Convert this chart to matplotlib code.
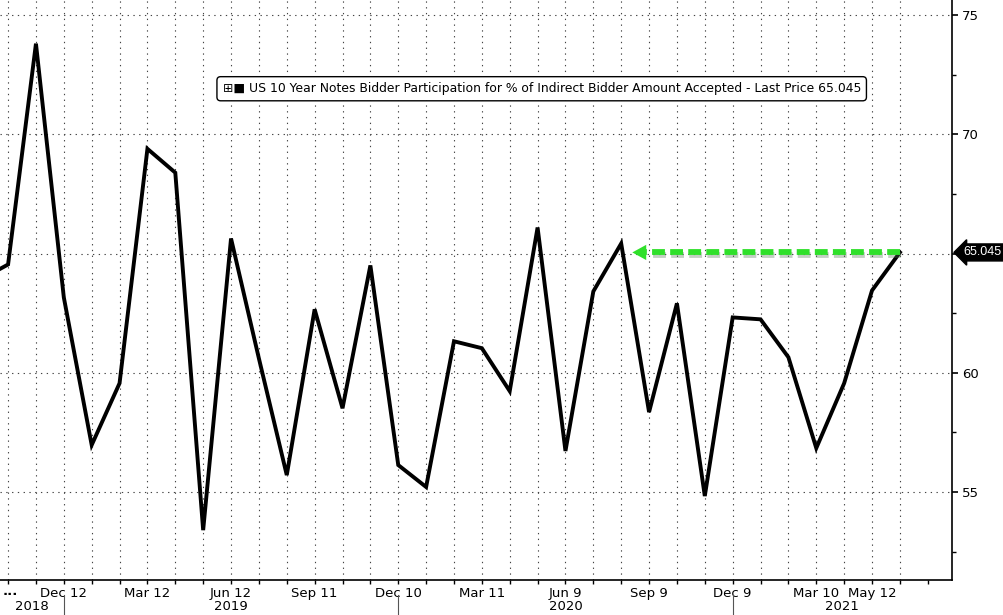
import matplotlib.pyplot as plt
import matplotlib.transforms as mtransforms
import matplotlib.patheffects as pe

# monthly auction results, Sep 2018 .. Jun 2021 (month index -1 .. 32)
months = list(range(-1, 33))
values = [63.9, 64.54, 73.8, 63.16, 56.97, 59.56, 69.39, 68.39, 53.4, 65.63,
          60.6, 55.71, 62.66, 58.51, 64.50, 56.13, 55.21, 61.32, 61.03, 59.23,
          66.09, 56.72, 63.41, 65.42, 58.35, 62.91, 54.83, 62.32, 62.24, 60.65,
          56.84, 59.56, 63.45, 65.045]

tick_pos = [2, 5, 8, 11, 14, 17, 20, 23, 26, 29, 31]
tick_labels = ["Dec 12", "Mar 12", "Jun 12", "Sep 11", "Dec 10", "Mar 11",
               "Jun 9", "Sep 9", "Dec 9", "Mar 10", "May 12"]
year_ends = [2, 14, 26]           # last auction of each year
years = ["2018", "2019", "2020", "2021"]
yticks = [55, 60, 65, 70, 75]
ytick_labels = ["55", "60", "", "70", "75"]   # 65 sits under the last-price tag

title = ("\u229e\u25a0 US 10 Year Notes Bidder Participation for % of Indirect "
         "Bidder Amount Accepted - Last Price 65.045")
green = "#2fe02a"
last = values[-1]

plt.rcParams['font.family'] = ['DejaVu Sans']
fig = plt.figure(figsize=(10.04, 6.15), dpi=100)
ax = fig.add_axes([0, 35 / 615, 952 / 1004, 580 / 615])

xmin, xmax = -0.29, 33.87
ax.set_xlim(xmin, xmax)
ax.set_ylim(51.31, 75.63)

# grid
for m in range(0, 33):
    ax.axvline(m, color="#444444", lw=0.8, ls=(0, (1.2, 4)), zorder=1)
for y in yticks:
    ax.axhline(y, color="#444444", lw=0.8, ls=(0, (1.2, 4)), zorder=1)

ax.plot(months, values, color="black", lw=2.8, solid_joinstyle="miter", zorder=3)

# green arrow back to the previous similar level
shadow = [pe.SimpleLineShadow(offset=(1, -2), alpha=0.35, shadow_color="#557755"), pe.Normal()]
ax.plot([32, 22.9], [last, last], color=green, lw=4.2, ls=(0, (2.2, 0.9)),
        path_effects=shadow, zorder=4)
ax.annotate("", xy=(22.3, last), xytext=(23.1, last),
            arrowprops=dict(arrowstyle="-|>,head_length=1.0,head_width=0.55",
                            color=green, lw=0), zorder=4)

# axes styling
for s in ["left", "top"]:
    ax.spines[s].set_visible(False)
ax.spines["right"].set_linewidth(1.2)
ax.spines["bottom"].set_linewidth(1.2)
ax.yaxis.tick_right()
ax.set_yticks(yticks)
ax.set_yticklabels(ytick_labels)
ax.set_yticks([52.5, 57.5, 62.5, 67.5, 72.5], minor=True)
ax.tick_params(axis="y", which="major", length=4, width=1.2, labelsize=9.5, pad=3)
ax.tick_params(axis="y", which="minor", length=3, width=1)
ax.set_xticks(tick_pos)
ax.set_xticklabels(tick_labels)
ax.set_xticks(range(0, 34), minor=True)
ax.tick_params(axis="x", which="both", length=3, width=1, labelsize=9.5, pad=2)

# year row
trans = mtransforms.blended_transform_factory(ax.transData, ax.transAxes)
bounds = [xmin] + [e for e in year_ends] + [xmax]
for i, yr in enumerate(years):
    ax.text((bounds[i] + bounds[i + 1]) / 2, -0.045, yr, transform=trans,
            ha="center", va="center", fontsize=9.5, clip_on=False)
for e in year_ends:
    ax.plot([e, e], [-0.026, -0.07], transform=trans, color="#555555", lw=0.8,
            clip_on=False)
ax.text(0.003, -0.019, "...", transform=ax.transAxes, ha="left", va="center",
        fontsize=9.5, fontweight="bold")

# legend box
ax.text(0.569, 0.847, title, transform=ax.transAxes, ha="center", va="center",
        fontsize=8.9,
        bbox=dict(boxstyle="round,pad=0.45,rounding_size=0.3", fc="white", ec="black", lw=1))

# last value tag
ytrans = mtransforms.blended_transform_factory(ax.transAxes, ax.transData)
ax.annotate(f"{last:.3f}", xy=(1, last), xycoords=ytrans, xytext=(8, 0),
            textcoords="offset points", ha="left", va="center", color="white",
            fontsize=9, family="Liberation Sans",
            bbox=dict(boxstyle="larrow,pad=0.2", fc="black", ec="black"),
            annotation_clip=False)

fig.savefig("out.png", dpi=100)
